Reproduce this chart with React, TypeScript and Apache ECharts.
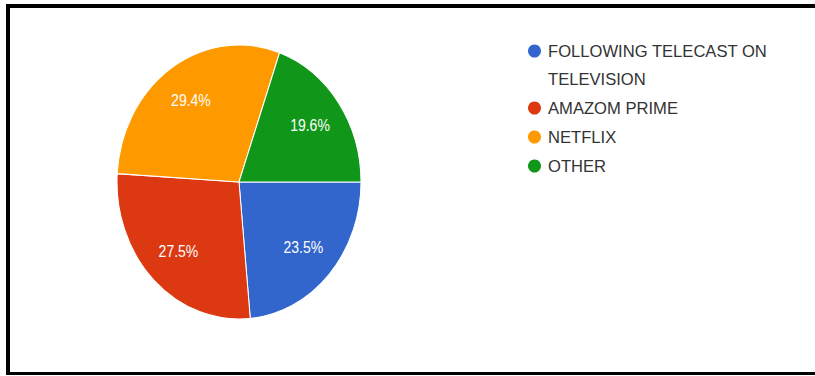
import React, { useEffect, useRef } from "react";
import * as echarts from "echarts";

const categories = ["FOLLOWING TELECAST ON TELEVISION", "AMAZOM PRIME", "NETFLIX", "OTHER"];
const responses = [12, 14, 15, 10];
const colors = ["#3366cc", "#dc3912", "#ff9900", "#109618"];

const FONT = "Arial, 'Liberation Sans', Helvetica, sans-serif";

function wrapLegend(name: string): string {
  const words = name.split(" ");
  const lines: string[] = [];
  let cur = "";
  for (const w of words) {
    const next = cur ? cur + " " + w : w;
    if (next.length > 22 && cur) {
      lines.push(cur);
      cur = w;
    } else {
      cur = next;
    }
  }
  if (cur) lines.push(cur);
  if (lines.length === 1) return lines[0];
  // blank first line keeps the marker centred on the first visible line
  return " \n" + lines.join("\n");
}

export default function App() {
  const pieRef = useRef<HTMLDivElement>(null);
  const legendRef = useRef<HTMLDivElement>(null);

  useEffect(() => {
    const legendChart = echarts.init(legendRef.current!, null, { renderer: "svg" });
    const pieChart = echarts.init(pieRef.current!, null, { renderer: "svg" });
    const data = categories.map((name, i) => ({
      name,
      value: responses[i],
      itemStyle: { color: colors[i] },
    }));

    legendChart.setOption({
      animation: false,
      legend: {
        orient: "vertical",
        left: 528,
        top: 9,
        padding: 0,
        itemGap: 1,
        icon: "circle",
        itemWidth: 13,
        itemHeight: 13,
        selectedMode: false,
        data: categories,
        formatter: (name: string) => wrapLegend(name),
        textStyle: {
          fontFamily: FONT,
          fontSize: 16.6,
          lineHeight: 28,
          color: "#333",
          padding: [0, 0, 0, 2],
        },
      },
      series: [
        {
          type: "pie",
          silent: true,
          center: [-200, -200],
          radius: 1,
          label: { show: false },
          labelLine: { show: false },
          data,
        },
      ],
    });

    pieChart.setOption({
      animation: false,
      series: [
        {
          type: "pie",
          center: [239, 182],
          radius: 122,
          startAngle: 0,
          clockwise: true,
          silent: true,
          itemStyle: { borderColor: "#ffffff", borderWidth: 1 },
          label: { show: false },
          labelLine: { show: false },
          data,
        },
        {
          type: "pie",
          center: [239, 182],
          radius: [46, 122],
          startAngle: 0,
          clockwise: true,
          silent: true,
          percentPrecision: 1,
          itemStyle: { color: "rgba(0,0,0,0)", borderWidth: 0 },
          label: {
            show: true,
            position: "inside",
            formatter: "{d}%",
            color: "#ffffff",
            fontFamily: FONT,
            fontSize: 14,
            textBorderWidth: 0,
          },
          labelLine: { show: false },
          data: categories.map((name, i) => ({ name, value: responses[i] })),
        },
      ],
    });

    return () => {
      legendChart.dispose();
      pieChart.dispose();
    };
  }, []);

  return (
    <div
      style={{
        position: "fixed",
        left: 0,
        top: 0,
        width: 815,
        height: 376,
        background: "#ffffff",
        overflow: "hidden",
      }}
    >
      <div
        style={{
          position: "absolute",
          left: 6,
          top: 4,
          width: 1000,
          height: 371,
          boxSizing: "border-box",
          borderTop: "4px solid #000",
          borderLeft: "4px solid #000",
          borderBottom: "3px solid #000",
        }}
      />
      <div ref={legendRef} style={{ position: "absolute", left: 0, top: 0, width: 815, height: 376 }} />
      <div
        ref={pieRef}
        style={{
          position: "absolute",
          left: 0,
          top: 0,
          width: 815,
          height: 376,
          transform: "scaleY(1.123)",
          transformOrigin: "239px 182px",
        }}
      />
    </div>
  );
}
